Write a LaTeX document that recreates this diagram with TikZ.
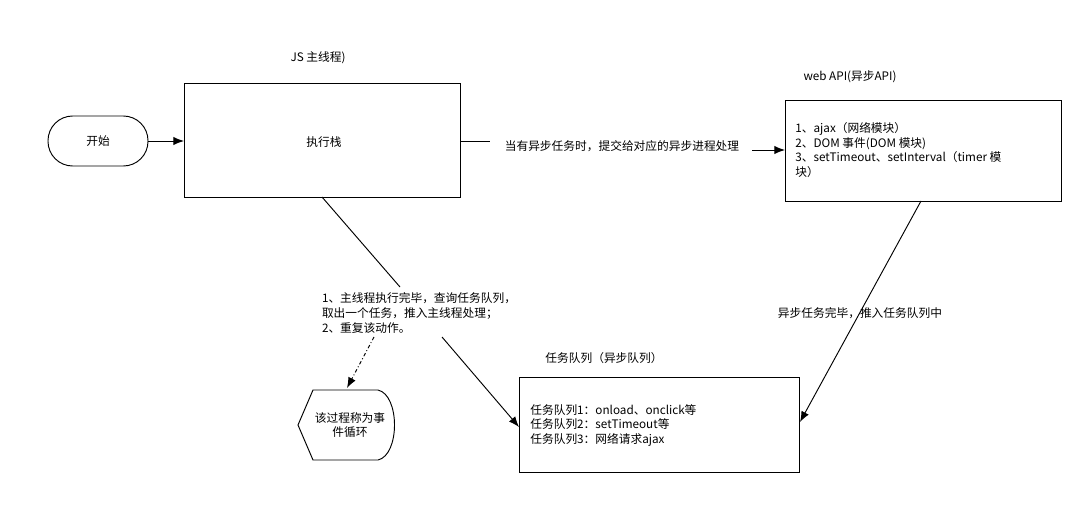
\documentclass[tikz,border=0pt]{standalone}
\usepackage{fontspec}
\setmainfont{Noto Sans CJK SC}
\usetikzlibrary{arrows.meta}
\tikzset{
  box/.style={draw, thick, inner sep=0pt},
  lbl/.style={font=\fontsize{10}{12.5}\selectfont, align=left},
  arr/.style={thick, -{Latex[length=9pt,width=7pt]}},
}
\begin{document}
\begin{tikzpicture}[x=0.03cm, y=-0.03cm, thick]
  \useasboundingbox (0,0) rectangle (1092,505);
  % start
  \draw[rounded corners=0.74cm] (48,116) rectangle (148,166);
  \node[lbl] (start) at (98,141) {开始};
  \coordinate (startR) at (148,141);
  % main thread
  \draw[box] (184,83) rectangle (460,197);
  \node[lbl] (stack) at (324,142) {执行栈};
  \node[lbl] (mainT) at (318,58) {JS 主线程)};
  \coordinate (stackL) at (184,141);
  \draw[arr] (startR) -- (stackL);
  % web api
  \draw[box] (785,100) rectangle (1061,201);
  \node[lbl] (apiT) at (850,77) {web API(异步API)};
  \node[lbl, anchor=north west] (api) at (791,118)
    {1、ajax（网络模块）\\2、DOM 事件(DOM 模块)\\3、setTimeout、setInterval（timer 模\\块）};
  \node[lbl, fill=white, inner sep=1pt] (submit) at (622,146) {当有异步任务时，提交给对应的异步进程处理};
  \draw (460,141) -- (490,141);
  \draw[arr] (752,150) -- (785,150);
  % task queue
  \draw[box] (519,377) rectangle (799,472);
  \node[lbl] (queueT) at (604,358) {任务队列（异步队列）};
  \node[lbl, anchor=north west] (queue) at (526,400)
    {任务队列1：onload、onclick等\\任务队列2：setTimeout等\\任务队列3：网络请求ajax};
  \node[lbl] (done) at (860,313) {异步任务完毕，推入任务队列中};
  \draw[arr] (921,201) -- (800,422);
  % loop
  \node[lbl] (loopTxt) at (419,313) {1、主线程执行完毕，查询任务队列，\\取出一个任务，推入主线程处理；\\2、重复该动作。};
  \draw (322,197) -- (400,287);
  \draw[arr] (442,337) -- (519,427);
  \draw (313,390) -- (378,390) .. controls (400,395) and (400,455) .. (378,460) -- (313,460) -- (298,425) -- cycle;
  \node[lbl, align=center] (cycleN) at (350,425) {该过程称为事\\件循环};
  \draw[arr, dash dot] (374,337) -- (347,388);
\end{tikzpicture}
\end{document}
